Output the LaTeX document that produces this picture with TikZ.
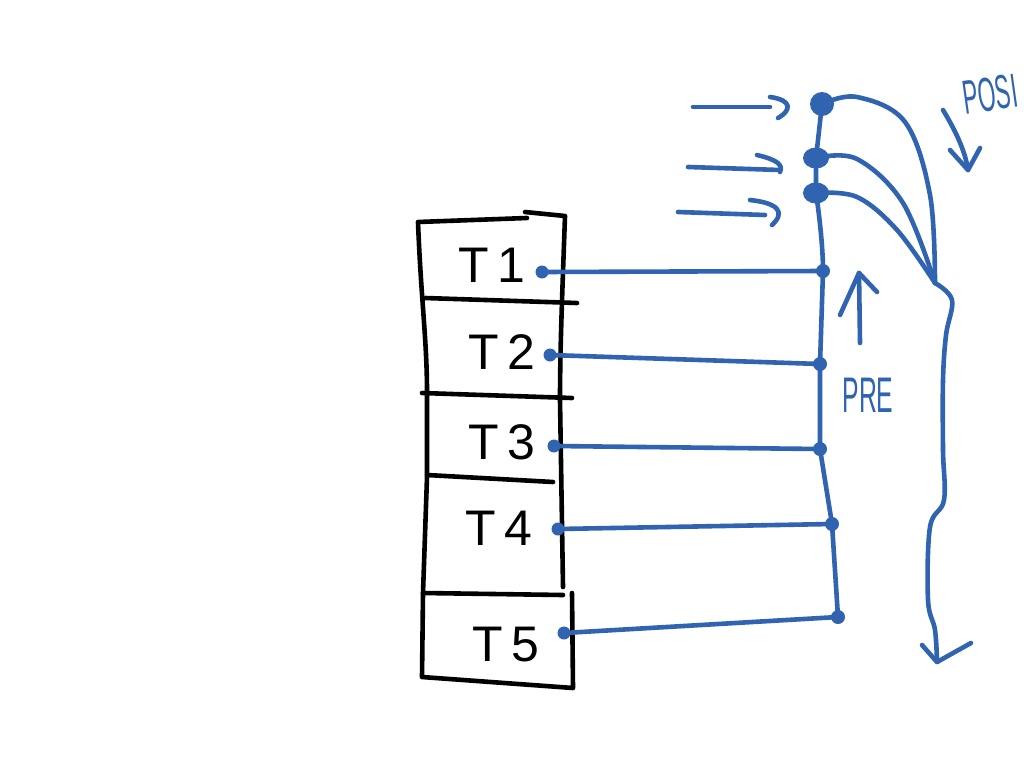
\documentclass[tikz,border=0pt]{standalone}
\usepackage{fontspec}
\setmainfont{Liberation Sans}
\usetikzlibrary{shapes.geometric}
\definecolor{ink}{RGB}{48,100,176}
\begin{document}
\begin{tikzpicture}[x=1pt,y=-1pt,line cap=round,line join=round,
  blk/.style={line width=4.6pt,black},
  bl/.style={line width=4.6pt,ink},
  dotL/.style={circle,fill=ink,inner sep=0pt,minimum size=13pt},
  dotR/.style={circle,fill=ink,inner sep=0pt,minimum size=14pt},
  dotP/.style={ellipse,fill=ink,inner sep=0pt,minimum width=26pt,minimum height=21pt},
  lbl/.style={font=\fontsize{50}{50}\selectfont,black,inner sep=0pt},
  note/.style={font=\fontsize{40}{40}\selectfont,text=ink,inner sep=0pt}]
\useasboundingbox (0,0) rectangle (1024,768);
\fill[white] (0,0) rectangle (1024,768);
% ---- black stack box ----
\draw[blk] (527,218) -- (418,222) .. controls (421,300) and (427,340) .. (427,393) -- (427,477) -- (423,593) -- (422,677) -- (573,688) -- (572,593);
\draw[blk] (525,212) -- (565,216) .. controls (562,300) and (560,350) .. (560,400) -- (563,587);
\draw[blk] (425,298) -- (577,303);
\draw[blk] (422,393) -- (572,398);
\draw[blk] (427,475) -- (553,482);
\draw[blk] (423,593) -- (563,595);
% ---- labels ----
\node[lbl] (t1) at (492,265) {T\,1};
\node[lbl] (t2) at (502,352) {T\,2};
\node[lbl] (t3) at (502,442) {T\,3};
\node[lbl] (t4) at (499,528) {T\,4};
\node[lbl] (t5) at (506,645) {T\,5};
% ---- dots ----
\node[dotL] (L1) at (542,272) {};
\node[dotL] (L2) at (550,355) {};
\node[dotL] (L3) at (554,446) {};
\node[dotL] (L4) at (558,529) {};
\node[dotL] (L5) at (564,633) {};
\node[dotR] (R1) at (823,271) {};
\node[dotR] (R2) at (820,364) {};
\node[dotR] (R3) at (820,449) {};
\node[dotR] (R4) at (832,524) {};
\node[dotR] (R5) at (838,617) {};
\node[dotP,minimum width=24pt,minimum height=24pt] (P1) at (822,104) {};
\node[dotP] (P2) at (816,158) {};
\node[dotP] (P3) at (816,193) {};
\coordinate (M) at (935,283);
\coordinate (E) at (937,662);
% ---- horizontal connectors ----
\draw[bl] (L1.center) -- (R1.center);
\draw[bl] (L2.center) -- (R2.center);
\draw[bl] (L3.center) -- (R3.center);
\draw[bl] (L4.center) -- (R4.center);
\draw[bl] (L5.center) -- (R5.center);
% ---- vertical chain ----
\draw[bl] (P1.center) -- (P2.center) -- (P3.center) .. controls (820,220) and (823,250) .. (R1.center) -- (R2.center) -- (R3.center) -- (R4.center) -- (R5.center);
% ---- curves to POSI line ----
\draw[bl] plot[smooth,tension=0.6] coordinates {(P1.center) (857,97) (905,122) (930,195) (M)};
\draw[bl] plot[smooth,tension=0.6] coordinates {(P2.center) (857,159) (903,203) (M)};
\draw[bl] plot[smooth,tension=0.6] coordinates {(P3.center) (857,197) (897,230) (M)};
\draw[bl] plot[smooth,tension=0.6] coordinates {(M) (952,300) (946,335) (943,380) (943,450) (944,500) (930,527) (928,600) (935,630) (E)};
\draw[bl] (922,645) -- (E) -- (971,643);
% ---- input arrows ----
\draw[bl] (693,107) -- (770,107);
\draw[bl] (770,97) .. controls (792,100) and (792,110) .. (778,118);
\draw[bl] (688,167) -- (780,170);
\draw[bl] (757,155) .. controls (778,160) and (783,165) .. (780,172);
\draw[bl] (678,212) -- (765,215);
\draw[bl] (750,200) .. controls (778,203) and (786,212) .. (772,225);
% ---- direction arrows ----
\draw[bl] (943,110) .. controls (955,130) and (965,150) .. (968,170);
\draw[bl] (950,150) -- (968,170) -- (980,148);
\draw[bl] (860,343) -- (859,273);
\draw[bl] (840,315) -- (859,273) -- (877,292);
% ---- notes ----
\node[note,rotate=8] (posi) at (990,94) {\scalebox{0.57}[1.2]{POSI}};
\node[note] (pre) at (868,395) {\scalebox{0.62}[1.25]{PRE}};
\end{tikzpicture}
\end{document}
